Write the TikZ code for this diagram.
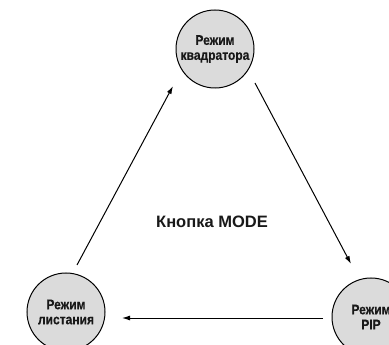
\documentclass[tikz,border=0pt]{standalone}
\usepackage{fontspec}
\setmainfont{Liberation Sans}
\newfontfamily\condfont[FakeStretch=0.86,FakeBold=0.3]{Liberation Sans}
\usetikzlibrary{arrows.meta}
\begin{document}
\begin{tikzpicture}[x=1pt,y=-1pt,
  modebox/.style={circle,draw=black,line width=1pt,fill=black!14,minimum size=78pt,inner sep=0pt,
    align=center,font=\condfont\bfseries\fontsize{14}{15}\selectfont,text=black!90},
  flow/.style={line width=1pt,-{Latex[length=8pt,width=5pt]}}]
\clip (0,0) rectangle (389,345);
\fill[white] (0,0) rectangle (389,345);
\node[modebox] (kv) at (215,49) {Режим\\квадратора};
\node[modebox] (pip) at (371,317) {Режим\\PIP};
\node[modebox] (li) at (66,312) {Режим\\листания};
\node[font=\bfseries\fontsize{16.5}{18}\selectfont,text=black!90] (mode) at (212,222) {Кнопка MODE};
\coordinate (a1) at (255,83);
\coordinate (a2) at (351,264);
\coordinate (b1) at (323,318);
\coordinate (b2) at (122,318);
\coordinate (c1) at (77,265);
\coordinate (c2) at (173,86);
\draw[flow] (a1) -- (a2);
\draw[flow] (b1) -- (b2);
\draw[flow] (c1) -- (c2);
\end{tikzpicture}
\end{document}
